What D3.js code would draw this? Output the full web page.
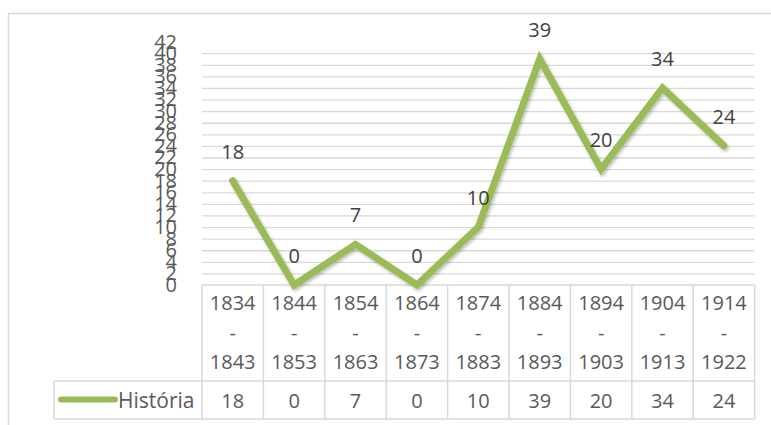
<!DOCTYPE html>
<html>
<head>
<meta charset="utf-8">
<script src="https://cdn.jsdelivr.net/npm/d3@7"></script>
<style>
  body { margin: 0; background: #fff; }
  svg text { font-family: "Open Sans", sans-serif; }
</style>
</head>
<body>
<svg id="chart" width="771" height="425"></svg>
<script>
var startYears = ["1834", "1844", "1854", "1864", "1874", "1884", "1894", "1904", "1914"];
var endYears = ["1843", "1853", "1863", "1873", "1883", "1893", "1903", "1913", "1922"];
var seriesName = "História";
var values = [18, 0, 7, 0, 10, 39, 20, 34, 24];
var yTicks = [0, 2, 4, 6, 8, 10, 12, 14, 16, 18, 20, 22, 24, 26, 28, 30, 32, 34, 36, 38, 40, 42];

var plot = {left: 202, right: 754.6, top: 41.6, bottom: 285}
  , rowMid = 381
  , rowBottom = 419
  , legendLeft = 54
  , green = "#9BBB59"
  , gridColor = "#D9D9D9"
  , textColor = "#595959";

var svg = d3.select("#chart");

// outer chart frame (runs off the picture on the right and bottom)
svg.append("rect")
	.attr("x", 8.5).attr("y", 13.5)
	.attr("width", 820).attr("height", 500)
	.attr("fill", "none")
	.attr("stroke", gridColor)
	.attr("stroke-width", 1.5);

var x = d3.scaleBand()
	.domain(d3.range(values.length))
	.range([plot.left, plot.right]);

var y = d3.scaleLinear()
	.domain([0, 42])
	.range([plot.bottom, plot.top]);

// gridlines (no line drawn at the top value)
svg.append("g")
	.attr("transform", "translate(" + plot.left + ",0)")
	.call(d3.axisLeft(y).tickValues(yTicks.filter(function(d){ return d > 0 && d < 42; }))
		.tickSize(-(plot.right - plot.left)).tickFormat(""))
	.call(function(g){
		g.select(".domain").remove();
		g.selectAll("line").attr("stroke", gridColor).attr("stroke-width", 1.3);
	});

// y axis labels
svg.append("g")
	.attr("transform", "translate(180,0)")
	.call(d3.axisLeft(y).tickValues(yTicks).tickSize(0).tickPadding(3))
	.call(function(g){
		g.select(".domain").remove();
		g.selectAll("text")
			.attr("fill", textColor)
			.style("font-size", "20px")
			.style("font-family", "'Open Sans', sans-serif");
	});

// data table
var table = svg.append("g")
	.attr("stroke", gridColor)
	.attr("stroke-width", 1.5);

table.append("line")
	.attr("x1", plot.left).attr("x2", plot.right)
	.attr("y1", plot.bottom).attr("y2", plot.bottom);
[rowMid, rowBottom].forEach(function(yy){
	table.append("line")
		.attr("x1", legendLeft).attr("x2", plot.right)
		.attr("y1", yy).attr("y2", yy);
});
table.append("line")
	.attr("x1", legendLeft).attr("x2", legendLeft)
	.attr("y1", rowMid).attr("y2", rowBottom);
table.selectAll("line.col")
	.data(d3.range(values.length + 1))
	.enter()
	.append("line")
		.attr("class", "col")
		.attr("x1", function(i){ return plot.left + i * x.bandwidth(); })
		.attr("x2", function(i){ return plot.left + i * x.bandwidth(); })
		.attr("y1", plot.bottom)
		.attr("y2", rowBottom);

var head = svg.append("g")
	.attr("fill", textColor)
	.style("font-size", "20px")
	.attr("text-anchor", "middle");

head.selectAll("text.start")
	.data(startYears)
	.enter()
	.append("text")
		.attr("x", function(d, i){ return x(i) + x.bandwidth() / 2; })
		.attr("y", 310)
		.text(function(d){ return d; });

head.selectAll("text.dash")
	.data(startYears)
	.enter()
	.append("text")
		.attr("x", function(d, i){ return x(i) + x.bandwidth() / 2; })
		.attr("y", 340)
		.text("-");

head.selectAll("text.end")
	.data(endYears)
	.enter()
	.append("text")
		.attr("x", function(d, i){ return x(i) + x.bandwidth() / 2; })
		.attr("y", 369)
		.text(function(d){ return d; });

head.selectAll("text.val")
	.data(values)
	.enter()
	.append("text")
		.attr("x", function(d, i){ return x(i) + x.bandwidth() / 2; })
		.attr("y", 408)
		.text(function(d){ return d; });

// legend key in the table
svg.append("line")
	.attr("x1", 61).attr("x2", 115)
	.attr("y1", 399.5).attr("y2", 399.5)
	.attr("stroke", green)
	.attr("stroke-width", 6)
	.attr("stroke-linecap", "round");

svg.append("text")
	.attr("x", 118).attr("y", 408)
	.attr("fill", textColor)
	.style("font-size", "21px")
	.text(seriesName);

// line with soft shadow
var defs = svg.append("defs");
defs.append("filter")
	.attr("id", "shadow")
	.attr("x", "-10%").attr("y", "-10%")
	.attr("width", "120%").attr("height", "120%")
	.append("feDropShadow")
		.attr("dx", 1.5).attr("dy", 2)
		.attr("stdDeviation", 1.5)
		.attr("flood-color", "#000")
		.attr("flood-opacity", 0.25);

var line = d3.line()
	.x(function(d, i){ return x(i) + x.bandwidth() / 2; })
	.y(function(d){ return y(d); });

svg.append("path")
	.datum(values)
	.attr("d", line)
	.attr("fill", "none")
	.attr("stroke", green)
	.attr("stroke-width", 7)
	.attr("stroke-linejoin", "miter")
	.attr("stroke-linecap", "round")
	.attr("filter", "url(#shadow)");

// data labels
svg.append("g")
	.selectAll("text")
	.data(values)
	.enter()
	.append("text")
		.attr("x", function(d, i){ return x(i) + x.bandwidth() / 2; })
		.attr("y", function(d){ return y(d) - 22; })
		.attr("text-anchor", "middle")
		.attr("fill", "#404040")
		.style("font-size", "20px")
		.text(function(d){ return d; });
</script>
</body>
</html>
